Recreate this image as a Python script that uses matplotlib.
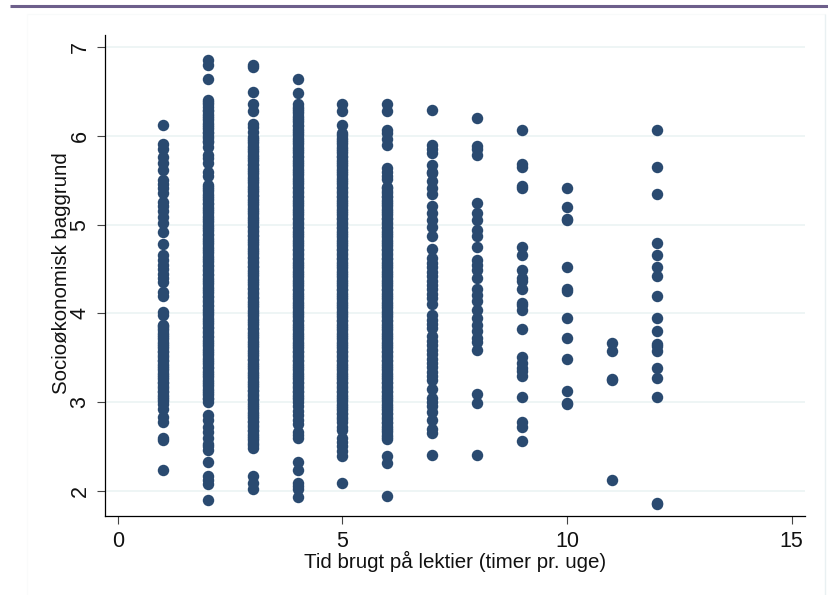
import matplotlib
matplotlib.use('Agg')
import matplotlib.pyplot as plt
from matplotlib.lines import Line2D

# values, one list per hour value
# the second block of each list fills the solid part of the column
y_1 = [6.13, 5.91, 5.85, 5.76, 5.70, 5.62, 5.50, 5.46, 5.41, 5.36, 5.26, 5.21, 5.16, 5.09, 5.02, 4.92, 4.78,
       4.66, 4.60, 4.55, 4.50, 4.45, 4.40, 4.36, 4.24, 4.20, 4.02, 3.98,
       3.87, 3.83, 3.78, 3.73, 3.68, 3.63, 3.58, 3.53, 3.48, 3.43, 3.38, 3.33, 3.28, 3.23, 3.18, 3.13, 3.08,
       3.03, 2.98, 2.92, 2.83, 2.77, 2.60, 2.57, 2.23,
       3.86, 3.81, 3.76, 3.71, 3.66, 3.61, 3.56, 3.51, 3.46, 3.41, 3.36, 3.31, 3.26, 3.21, 3.16, 3.11, 3.06, 3.01]
y_2 = [6.86, 6.80, 6.65, 6.41, 6.36, 6.30, 6.25, 6.20, 6.15, 6.10, 6.05, 6.00, 5.95, 5.88, 5.79, 5.75, 5.70,
       5.60, 5.55, 5.45, 5.40, 5.35, 5.30, 5.25, 5.20, 5.15, 5.10, 5.05, 5.00, 4.95, 4.90, 4.85, 4.80, 4.75,
       4.70, 4.65, 4.60, 4.55, 4.50, 4.45, 4.40, 4.35, 4.30, 4.25, 4.20, 4.15, 4.10, 4.05, 4.00, 3.95, 3.90,
       3.85, 3.80, 3.75, 3.70, 3.65, 3.60, 3.55, 3.50, 3.45, 3.40, 3.35, 3.30, 3.25, 3.20, 3.15, 3.10, 3.05,
       3.00, 2.85, 2.80, 2.72, 2.66, 2.60, 2.53, 2.50, 2.46, 2.32, 2.17, 2.12, 2.08, 1.90,
       6.38, 6.33, 6.28, 6.23, 6.18, 6.13, 6.08, 6.03, 5.98, 5.93, 5.43, 5.38, 5.33, 5.28, 5.23, 5.18, 5.13,
       5.08, 5.03, 4.98, 4.93, 4.88, 4.83, 4.78, 4.73, 4.68, 4.63, 4.58, 4.53, 4.48, 4.43, 4.38, 4.33, 4.28,
       4.23, 4.18, 4.13, 4.08, 4.03, 3.98, 3.93, 3.88, 3.83, 3.78, 3.73, 3.68, 3.63, 3.58, 3.53, 3.48, 3.43,
       3.38, 3.33, 3.28, 3.23, 3.18, 3.13, 3.08, 3.03]
y_3 = [6.80, 6.78, 6.50, 6.36, 6.28, 6.14, 6.10, 6.05, 5.99, 5.94, 5.89, 5.84, 5.79, 5.74, 5.69, 5.64, 5.59,
       5.54, 5.49, 5.44, 5.39, 5.34, 5.29, 5.24, 5.19, 5.14, 5.09, 5.04, 4.99, 4.94, 4.89, 4.84, 4.79, 4.74,
       4.69, 4.64, 4.59, 4.54, 4.49, 4.44, 4.39, 4.34, 4.29, 4.24, 4.19, 4.14, 4.09, 4.04, 3.99, 3.94, 3.89,
       3.84, 3.79, 3.74, 3.69, 3.64, 3.59, 3.54, 3.49, 3.44, 3.39, 3.34, 3.29, 3.24, 3.19, 3.14, 3.09, 3.04,
       2.99, 2.94, 2.89, 2.84, 2.79, 2.74, 2.69, 2.64, 2.59, 2.54, 2.48, 2.17, 2.09, 2.02,
       5.97, 5.92, 5.87, 5.82, 5.77, 5.72, 5.67, 5.62, 5.57, 5.52, 5.47, 5.42, 5.37, 5.32, 5.27, 5.22, 5.17,
       5.12, 5.07, 5.02, 4.97, 4.92, 4.87, 4.82, 4.77, 4.72, 4.67, 4.62, 4.57, 4.52, 4.47, 4.42, 4.37, 4.32,
       4.27, 4.22, 4.17, 4.12, 4.07, 4.02, 3.97, 3.92, 3.87, 3.82, 3.77, 3.72, 3.67, 3.62, 3.57, 3.52, 3.47,
       3.42, 3.37, 3.32, 3.27, 3.22, 3.17, 3.12, 3.07, 3.02, 2.97, 2.92, 2.87, 2.82, 2.77, 2.72, 2.67, 2.62,
       2.57, 2.52]
y_4 = [6.65, 6.49, 6.36, 6.31, 6.26, 6.21, 6.16, 6.11, 6.06, 6.01, 5.96, 5.91, 5.86, 5.81, 5.76, 5.71, 5.66,
       5.61, 5.56, 5.51, 5.46, 5.41, 5.36, 5.31, 5.26, 5.21, 5.16, 5.11, 5.06, 5.01, 4.96, 4.91, 4.86, 4.81,
       4.76, 4.71, 4.66, 4.61, 4.56, 4.51, 4.46, 4.41, 4.36, 4.31, 4.26, 4.21, 4.16, 4.11, 4.06, 4.01, 3.96,
       3.91, 3.86, 3.81, 3.76, 3.71, 3.66, 3.61, 3.56, 3.51, 3.46, 3.41, 3.36, 3.31, 3.26, 3.21, 3.16, 3.11,
       3.06, 3.00, 2.95, 2.90, 2.85, 2.80, 2.75, 2.66, 2.63, 2.60, 2.32, 2.23, 2.09, 2.05, 2.02, 1.93,
       6.33, 6.28, 6.23, 6.18, 6.13, 6.08, 6.03, 5.98, 5.93, 5.88, 5.83, 5.78, 5.73, 5.68, 5.63, 5.58, 5.53,
       5.48, 5.43, 5.38, 5.33, 5.28, 5.23, 5.18, 5.13, 5.08, 5.03, 4.98, 4.93, 4.88, 4.83, 4.78, 4.73, 4.68,
       4.63, 4.58, 4.53, 4.48, 4.43, 4.38, 4.33, 4.28, 4.23, 4.18, 4.13, 4.08, 4.03, 3.98, 3.93, 3.88, 3.83,
       3.78, 3.73, 3.68, 3.63, 3.58, 3.53, 3.48, 3.43, 3.38, 3.33, 3.28, 3.23, 3.18, 3.13, 3.08, 3.03]
y_5 = [6.36, 6.28, 6.13, 6.03, 5.98, 5.93, 5.88, 5.83, 5.78, 5.73, 5.68, 5.63, 5.58, 5.53, 5.48, 5.43, 5.38,
       5.33, 5.28, 5.23, 5.18, 5.13, 5.08, 5.03, 4.98, 4.93, 4.88, 4.83, 4.78, 4.73, 4.68, 4.63, 4.58, 4.53,
       4.48, 4.43, 4.38, 4.33, 4.28, 4.23, 4.18, 4.13, 4.08, 4.03, 3.98, 3.93, 3.88, 3.83, 3.78, 3.73, 3.68,
       3.63, 3.58, 3.53, 3.48, 3.43, 3.38, 3.33, 3.28, 3.23, 3.18, 3.13, 3.08, 3.03, 2.98, 2.93, 2.88, 2.83,
       2.78, 2.72, 2.68, 2.60, 2.55, 2.50, 2.45, 2.39, 2.09,
       6.01, 5.96, 5.91, 5.86, 5.81, 5.76, 5.71, 5.66, 5.61, 5.56, 5.51, 5.46, 5.41, 5.36, 5.31, 5.26, 5.21,
       5.16, 5.11, 5.06, 5.01, 4.96, 4.91, 4.86, 4.81, 4.76, 4.71, 4.66, 4.61, 4.56, 4.51, 4.46, 4.41, 4.36,
       4.31, 4.26, 4.21, 4.16, 4.11, 4.06, 4.01, 3.96, 3.91, 3.86, 3.81, 3.76, 3.71, 3.66, 3.61, 3.56, 3.51,
       3.46, 3.41, 3.36, 3.31, 3.26, 3.21, 3.16, 3.11, 3.06, 3.01, 2.96, 2.91, 2.86, 2.81]
y_6 = [6.36, 6.28, 6.07, 6.03, 5.97, 5.90, 5.64, 5.60, 5.55, 5.52, 5.43, 5.38, 5.33, 5.28, 5.23, 5.18, 5.13,
       5.08, 5.03, 4.98, 4.93, 4.88, 4.83, 4.78, 4.73, 4.68, 4.63, 4.58, 4.53, 4.48, 4.43, 4.38, 4.33, 4.28,
       4.23, 4.18, 4.13, 4.08, 4.03, 3.98, 3.93, 3.88, 3.83, 3.78, 3.73, 3.68, 3.63, 3.58, 3.53, 3.48, 3.43,
       3.38, 3.33, 3.28, 3.23, 3.18, 3.13, 3.08, 3.03, 2.98, 2.93, 2.88, 2.83, 2.78, 2.73, 2.68, 2.63, 2.58,
       2.39, 2.31, 1.94,
       5.41, 5.36, 5.31, 5.26, 5.21, 5.16, 5.11, 5.06, 5.01, 4.96, 4.91, 4.86, 4.81, 4.76, 4.71, 4.66, 4.61,
       4.56, 4.51, 4.46, 4.41, 4.36, 4.31, 4.26, 4.21, 4.16, 4.11, 4.06, 4.01, 3.96, 3.91, 3.86, 3.81, 3.76,
       3.71, 3.66, 3.61, 3.56, 3.51, 3.46, 3.41, 3.36, 3.31, 3.26, 3.21, 3.16, 3.11, 3.06, 3.01, 2.96, 2.91,
       2.86, 2.81, 2.76, 2.71, 2.66, 2.61]
y_7 = [6.29, 5.90, 5.85, 5.81, 5.67, 5.60, 5.58, 5.49, 5.42, 5.35, 5.21, 5.13, 5.05, 4.98, 4.87, 4.73,
       4.62, 4.57, 4.52, 4.47, 4.42, 4.37, 4.32, 4.27, 4.22, 4.17, 4.11, 3.98, 3.93, 3.88, 3.83,
       3.74, 3.69, 3.64, 3.59, 3.54, 3.49, 3.44, 3.39, 3.34, 3.29, 3.25, 3.15, 3.05, 3.00, 2.95, 2.89,
       2.80, 2.70, 2.65, 2.40]
y_8 = [6.20, 5.89, 5.86, 5.79, 5.25, 5.13, 5.05, 4.94, 4.87, 4.75, 4.60, 4.55, 4.49, 4.40, 4.28, 4.21, 4.14,
       4.04, 3.95, 3.87, 3.80, 3.72, 3.68, 3.59, 3.09, 2.99, 2.40]
y_9 = [6.07, 5.69, 5.65, 5.44, 5.41, 4.75, 4.66, 4.49, 4.40, 4.37, 4.27, 4.12, 4.09, 4.04, 3.82, 3.51, 3.44,
       3.38, 3.35, 3.29, 3.06, 2.78, 2.72, 2.56]
y_10 = [5.42, 5.20, 5.07, 5.05, 4.52, 4.28, 4.25, 3.95, 3.72, 3.49, 3.13, 2.99, 2.98]
y_11 = [3.67, 3.58, 3.26, 3.25, 2.12]
y_12 = [6.07, 5.65, 5.35, 4.79, 4.66, 4.52, 4.42, 4.20, 3.95, 3.80, 3.66, 3.63, 3.58, 3.38, 3.27, 3.06, 1.86, 1.85]
columns = [y_1, y_2, y_3, y_4, y_5, y_6, y_7, y_8, y_9, y_10, y_11, y_12]
hours = [1, 2, 3, 4, 5, 6, 7, 8, 9, 10, 11, 12]

x_ticks = [0, 5, 10, 15]
y_ticks = [2, 3, 4, 5, 6, 7]

W, H = 829, 595
plt.rcParams['font.family'] = ['Liberation Sans', 'DejaVu Sans']
fig = plt.figure(figsize=(W / 100, H / 100), dpi=100)


def fig_line(x0, y0, x1, y1, color, lw):
    # pixel coordinates of the page, y counted from the top
    fig.add_artist(Line2D([x0 / W, x1 / W], [1 - y0 / H, 1 - y1 / H], transform=fig.transFigure,
                          color=color, lw=lw, solid_capstyle='butt', zorder=-1))


# faint outer panel and the purple rule on top
fig_line(27, 14, 825, 14, '#f8fafa', 0.8)
fig_line(27, 14, 27, 595, '#fafbfb', 0.8)
fig_line(825, 14, 825, 595, '#e9f0f2', 1.0)
fig_line(10, 6.3, W, 6.3, '#6d5f8b', 2.2)

ax = fig.add_axes([105.5 / W, 1 - 516.3 / H, (805 - 105.5) / W, (516.3 - 35) / H])
ax.patch.set_alpha(0)

for hour, vals in zip(hours, columns):
    ax.scatter([hour] * len(vals), vals, s=68, color='#2a4a70', linewidths=0, zorder=3)

ax.set_xlim(-0.278, 15.3)
ax.set_ylim(1.711, 7.141)
ax.set_xticks(x_ticks)
ax.set_yticks(y_ticks)
ax.grid(axis='y', color='#eaf2f3', lw=1.1, zorder=0)
ax.grid(axis='x', visible=False)
ax.set_axisbelow(True)

for side in ['top', 'right']:
    ax.spines[side].set_visible(False)
for side in ['left', 'bottom']:
    ax.spines[side].set_linewidth(0.9)
    ax.spines[side].set_color('black')

ax.tick_params(axis='both', length=5.8, width=0.8, color='#444444', labelcolor='#111111',
               labelsize=15.5, pad=5)
plt.setp(ax.get_yticklabels(), rotation=90, va='center')

fig.text(455.5 / W, 1 - 561 / H, 'Tid brugt på lektier (timer pr. uge)', fontsize=14.75,
         ha='center', va='center', color='#111111')
fig.text(61.5 / W, 1 - 273.5 / H, 'Socioøkonomisk baggrund', fontsize=14.7, rotation=90,
         ha='center', va='center', color='#111111')

fig.savefig('out.png', dpi=100)
